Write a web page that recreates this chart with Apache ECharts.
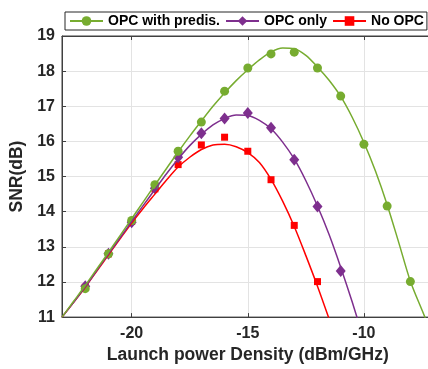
<!DOCTYPE html>
<html>
<head>
<meta charset="utf-8">
<script src="https://cdn.jsdelivr.net/npm/echarts@6/dist/echarts.min.js"></script>
<style>
  html, body { margin: 0; padding: 0; background: #fff; overflow: hidden; }
  /* the plot box runs a few pixels past the right edge of the picture */
  #chart-container { width: 434px; height: 369px; }
</style>
</head>
<body>
<div id="chart-container"></div>
<script>
var dom = document.getElementById("chart-container");
var myChart = echarts.init(dom, null, { renderer: "canvas" });

// measured points (launch power, dBm/GHz)
var markerPower = [-22, -21, -20, -19, -18, -17, -16, -15, -14, -13, -12, -11, -10, -9, -8];
var predisMarkers = [11.81, 12.80, 13.75, 14.77, 15.72, 16.55, 17.43, 18.09, 18.49, 18.54, 18.09, 17.29, 15.92, 14.16, 12.01];
var opcOnlyMarkers = [11.88, 12.80, 13.70, 14.67, 15.55, 16.23, 16.65, 16.81, 16.39, 15.48, 14.15, 12.31];
var noOpcMarkers = [11.85, 12.80, 13.72, 14.65, 15.34, 15.90, 16.12, 15.72, 14.91, 13.61, 12.01];

// fitted curves
var predisCurveX = [-23, -22.5, -22, -21.5, -21, -20.5, -20, -19.5, -19, -18.5, -18, -17.5, -17, -16.5, -16, -15.5, -15, -14.5, -14, -13.5, -13, -12.5, -12, -11.5, -11, -10.5, -10, -9.5, -9, -8.5, -8, -7.5, -7];
var predisCurveY = [11.0, 11.45, 11.9, 12.37, 12.84, 13.32, 13.8, 14.28, 14.76, 15.23, 15.7, 16.15, 16.58, 17.0, 17.38, 17.73, 18.04, 18.32, 18.55, 18.66, 18.64, 18.45, 18.12, 17.74, 17.28, 16.68, 15.97, 15.15, 14.2, 13.12, 12.02, 11.2, 10.4];

var opcOnlyCurveX = [-23, -22.5, -22, -21.5, -21, -20.5, -20, -19.5, -19, -18.5, -18, -17.5, -17, -16.5, -16, -15.5, -15, -14.5, -14, -13.5, -13, -12.5, -12, -11.5, -11, -10.5, -10];
var opcOnlyCurveY = [11.0, 11.42, 11.86, 12.33, 12.8, 13.26, 13.72, 14.18, 14.63, 15.08, 15.5, 15.88, 16.2, 16.47, 16.65, 16.75, 16.74, 16.6, 16.36, 15.98, 15.5, 14.88, 14.16, 13.35, 12.42, 11.42, 10.35];

var noOpcCurveX = [-23, -22.5, -22, -21.5, -21, -20.5, -20, -19.5, -19, -18.5, -18, -17.5, -17, -16.5, -16, -15.5, -15, -14.5, -14, -13.5, -13, -12.5, -12, -11.5];
var noOpcCurveY = [11.0, 11.42, 11.85, 12.31, 12.77, 13.23, 13.68, 14.1, 14.5, 14.9, 15.27, 15.55, 15.77, 15.9, 15.92, 15.85, 15.68, 15.4, 14.92, 14.3, 13.58, 12.75, 11.88, 10.95];

var xTicks = [-20, -15, -10];

function pairs(xs, ys) {
  return ys.map(function (y, i) { return [xs[i], y]; });
}

var axisColor = "#404040";
var textColor = "#262626";
var font = "Liberation Sans";

function curve(name, color, symbol, xs, ys) {
  return {
    name: name,
    type: "line",
    data: pairs(xs, ys),
    symbol: symbol,
    showSymbol: false,
    smooth: 0.3,
    color: color,
    lineStyle: { width: 1.5, color: color },
    itemStyle: { color: color },
    silent: true,
    clip: true,
  };
}

function marks(name, color, symbol, size, ys) {
  return {
    name: name,
    type: "scatter",
    data: pairs(markerPower, ys),
    symbol: symbol,
    symbolSize: size,
    itemStyle: { color: color, opacity: 1 },
    silent: true,
  };
}

var option = {
  animation: false,
  backgroundColor: "#fff",
  grid: { left: 62, top: 36, bottom: 50, right: 0.4, show: true, borderColor: axisColor, borderWidth: 1 },
  legend: {
    data: ["OPC with predis.", "OPC only", "No OPC"],
    left: 65,
    top: 12,
    width: 400,
    padding: [2, 3, 2, 4],
    itemGap: 5,
    itemWidth: 33,
    itemHeight: 12,
    textStyle: { fontFamily: font, fontWeight: "bold", fontSize: 14, color: "#000" },
    backgroundColor: "#fff",
    borderColor: "#262626",
    borderWidth: 1,
    borderRadius: 0,
  },
  xAxis: [
    {
      type: "value",
      min: -23,
      max: -7,
      name: "Launch power Density (dBm/GHz)",
      nameLocation: "middle",
      nameGap: 26,
      nameTextStyle: { fontFamily: font, fontWeight: "bold", fontSize: 17.5, color: textColor },
      axisLine: { show: true, onZero: false, lineStyle: { color: axisColor, width: 1 } },
      axisTick: { show: true, inside: true, length: 4, customValues: xTicks, lineStyle: { color: axisColor } },
      axisLabel: { customValues: xTicks, margin: 8, fontFamily: font, fontWeight: "bold", fontSize: 16, color: textColor },
      splitLine: { show: true, lineStyle: { color: "#e3e3e3", width: 1 } },
    },
    {
      type: "value",
      position: "top",
      min: -23,
      max: -7,
      axisLine: { show: true, onZero: false, lineStyle: { color: axisColor, width: 1 } },
      axisTick: { show: true, inside: true, length: 4, customValues: xTicks, lineStyle: { color: axisColor } },
      axisLabel: { show: false },
      splitLine: { show: false },
    },
  ],
  yAxis: {
    type: "value",
    min: 11,
    max: 19,
    interval: 1,
    name: "SNR(dB)",
    nameLocation: "middle",
    nameGap: 27,
    nameTextStyle: { fontFamily: font, fontWeight: "bold", fontSize: 17.5, color: textColor },
    axisLine: { show: true, lineStyle: { color: axisColor, width: 1 } },
    axisTick: { show: true, inside: true, length: 4, lineStyle: { color: axisColor } },
    axisLabel: { margin: 7, fontFamily: font, fontWeight: "bold", fontSize: 16, color: textColor },
    splitLine: { show: true, lineStyle: { color: "#e3e3e3", width: 1 } },
  },
  series: [
    curve("No OPC", "#FF0000", "rect", noOpcCurveX, noOpcCurveY),
    marks("No OPC pts", "#FF0000", "rect", 7, noOpcMarkers),
    curve("OPC only", "#7E2F8E", "diamond", opcOnlyCurveX, opcOnlyCurveY),
    marks("OPC only pts", "#7E2F8E", "diamond", [10, 12], opcOnlyMarkers),
    curve("OPC with predis.", "#77AC30", "circle", predisCurveX, predisCurveY),
    marks("OPC with predis. pts", "#77AC30", "circle", 9, predisMarkers),
  ],
};

myChart.setOption(option);
window.addEventListener("resize", myChart.resize);
</script>
</body>
</html>
